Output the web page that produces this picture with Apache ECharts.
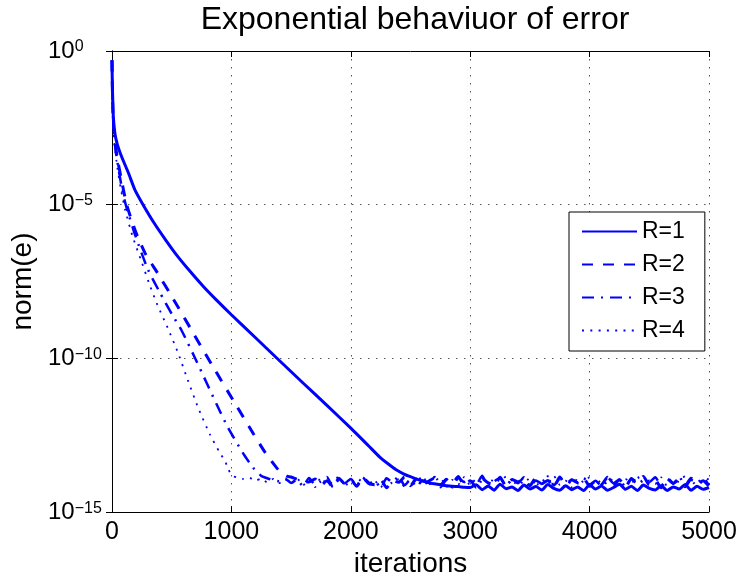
<!DOCTYPE html>
<html>
<head>
<meta charset="utf-8">
<script src="https://cdn.jsdelivr.net/npm/echarts@6/dist/echarts.min.js"></script>
<style>html,body{margin:0;padding:0;background:#fff}#c{width:740px;height:583px}</style>
</head>
<body>
<div id="c"></div>
<script>
// ---- data (values stored as log10 of norm(e)) ----
const seriesNames = ['R=1', 'R=2', 'R=3', 'R=4'];
const xTicks = [0, 1000, 2000, 3000, 4000, 5000];
const yTickExponents = [0, -5, -10, -15];

const R1_head_x = [0,2,5,11,25,45,67,100,137,190,260,350,450,540,650,763,880,1000,1200,1375,1600,1800,2000,2150,2240,2320,2380,2450,2520];
const R1_head_y = [-0.3,-0.9,-1.4,-2.13,-2.7,-3.05,-3.3,-3.62,-3.96,-4.5,-5.0,-5.58,-6.15,-6.63,-7.15,-7.65,-8.12,-8.58,-9.32,-9.97,-10.8,-11.53,-12.27,-12.85,-13.2,-13.45,-13.62,-13.77,-13.88];

const R2_head_x = [0,3,8,20,45,80,123,200,280,373,512,666,835,1044,1184,1281,1379,1430,1463];
const R2_head_y = [-0.3,-1.2,-2.0,-2.8,-3.5,-4.2,-5.0,-5.9,-6.6,-7.17,-8.06,-9.08,-10.2,-11.55,-12.45,-13.05,-13.56,-13.75,-13.83];

const R3_head_x = [0,3,8,20,45,80,115,195,300,400,500,584,709,793,877,974,1100,1180,1225];
const R3_head_y = [-0.3,-1.3,-2.1,-2.9,-3.6,-4.4,-5.0,-6.0,-7.1,-7.85,-8.55,-9.1,-10.1,-10.8,-11.5,-12.27,-13.1,-13.55,-13.72];

const R4_head_x = [0,3,8,20,45,75,109,170,249,310,374,469,555,639,723,821,900,946,975];
const R4_head_y = [-0.3,-1.4,-2.2,-3.0,-3.8,-4.5,-5.15,-6.0,-6.87,-7.55,-8.2,-9.03,-9.84,-10.75,-11.62,-12.48,-13.05,-13.34,-13.6];

const plateauIters = [1000,1050,1100,1150,1200,1250,1300,1350,1400,1450,1500,1550,1600,1650,1700,1750,1800,1850,1900,1950,2000,2050,2100,2150,2200,2250,2300,2350,2400,2450,2500,2550,2600,2650,2700,2750,2800,2850,2900,2950,3000,3050,3100,3150,3200,3250,3300,3350,3400,3450,3500,3550,3600,3650,3700,3750,3800,3850,3900,3950,4000,4050,4100,4150,4200,4250,4300,4350,4400,4450,4500,4550,4600,4650,4700,4750,4800,4850,4900,4950,5000];

const R4_plateau = [-13.80,-13.88,-13.92,-13.88,-13.98,-13.91,-14.03,-13.92,-14.06,-13.93,-14.08,
-13.90,-14.13,-13.95,-14.19,-13.87,-14.10,-14.02,-13.84,-14.16,-13.97,
-14.06,-13.86,-14.14,-13.98,-14.20,-13.89,-14.08,-13.94,-14.18,-13.90,
-14.03,-13.82,-14.11,-14.00,-13.87,-14.19,-13.95,-14.10,-13.86,-14.13,
-13.92,-14.05,-14.18,-13.89,-14.00,-13.84,-14.14,-13.97,-14.08,-13.87,
-14.16,-13.94,-14.06,-13.82,-14.11,-13.98,-14.19,-13.90,-14.03,-13.86,
-14.13,-13.95,-14.10,-13.89,-14.18,-13.92,-14.05,-13.84,-14.14,-13.97,
-14.08,-13.87,-14.16,-13.94,-14.02,-13.82,-14.13,-13.98,-14.06,-13.89];

const R3_plateau = [-13.82,-13.90,-13.96,-14.00,-13.91,-14.05,
-13.94,-14.16,-13.89,-14.10,-14.00,-13.86,-14.19,-13.95,-14.06,-13.92,
-14.14,-13.87,-14.08,-13.98,-14.21,-13.90,-14.03,-13.84,-14.13,-13.94,
-14.18,-13.97,-14.05,-13.86,-14.11,-13.92,-14.19,-13.89,-14.02,-13.95,
-14.10,-13.82,-14.16,-14.00,-13.90,-14.14,-13.94,-14.06,-13.87,-14.18,
-13.97,-14.08,-13.84,-14.13,-13.92,-14.21,-13.95,-14.03,-13.89,-14.11,
-13.98,-14.16,-13.86,-14.06,-13.94,-14.19,-13.90,-14.10,-13.97,-14.02,
-13.87,-14.14,-13.92,-14.08,-13.84,-14.18,-13.95,-14.05,-13.89,-14.13];

const R2_plateau = [-13.86,-13.93,-13.99,-14.02,
-13.92,-14.13,-13.98,-14.19,-13.90,-14.08,-13.95,-14.16,-13.87,-14.05,
-14.11,-13.94,-14.21,-13.97,-14.03,-13.86,-14.14,-13.92,-14.10,-14.00,
-13.89,-14.18,-13.95,-14.06,-13.84,-14.13,-13.98,-14.19,-13.90,-14.05,
-14.10,-13.87,-14.16,-13.94,-14.02,-13.92,-14.14,-13.89,-14.08,-13.97,
-14.19,-13.86,-14.11,-13.95,-14.05,-13.90,-14.16,-13.98,-14.10,-13.87,
-14.13,-13.94,-14.18,-13.92,-14.03,-13.84,-14.11,-13.97,-14.21,-13.89,
-14.06,-13.95,-14.14,-13.90,-14.08,-13.98,-14.16];

const R1_plateau = [-13.93,-13.99,-14.04,-14.08,-14.11,-14.14,-14.16,-14.17,-14.19,-14.20,
-14.11,-14.27,-14.15,-14.29,-14.09,-14.24,-14.18,-14.30,-14.12,-14.25,
-14.17,-14.28,-14.10,-14.23,-14.29,-14.14,-14.27,-14.18,-14.30,-14.11,
-14.25,-14.15,-14.29,-14.20,-14.09,-14.26,-14.16,-14.30,-14.12,-14.23,
-14.28,-14.14,-14.30,-14.18,-14.25,-14.10,-14.29,-14.16,-14.26,-14.20];

// ---- build point lists ----
function build(hx, hy, plateau) {
  const start = plateauIters.length - plateau.length;
  const pts = hx.map((x, i) => [x, Math.pow(10, hy[i])]);
  plateau.forEach((e, i) => pts.push([plateauIters[start + i], Math.pow(10, e)]));
  return pts;
}
const dataR1 = build(R1_head_x, R1_head_y, R1_plateau);
const dataR2 = build(R2_head_x, R2_head_y, R2_plateau);
const dataR3 = build(R3_head_x, R3_head_y, R3_plateau);
const dataR4 = build(R4_head_x, R4_head_y, R4_plateau);

const FONT = "'Liberation Sans', Arial, Helvetica, sans-serif";
const BLUE = '#0000ff';

function supLabel(v) {
  const e = Math.round(Math.log10(v));
  if (yTickExponents.indexOf(e) < 0) return '';
  const s = e < 0 ? '\u2212' + (-e) : String(e);
  return '{b|10}{s|' + s + '}';
}

const chart = echarts.init(document.getElementById('c'), null, {renderer: 'canvas'});
const tickStyle = {show: true, inside: true, length: 6, lineStyle: {color: '#000', width: 1}};
chart.setOption({
  animation: false,
  backgroundColor: '#fff',
  title: {
    text: 'Exponential behaviuor of error',
    left: 410, top: -1, textAlign: 'center',
    textStyle: {fontFamily: FONT, fontSize: 32, fontWeight: 'normal', color: '#000'}
  },
  grid: {left: 112, right: 31, top: 51, bottom: 68, containLabel: false},
  legend: {
    orient: 'vertical', left: 569, top: 212,
    padding: [8, 20, 9, 12], itemGap: 10, itemWidth: 55, itemHeight: 20,
    backgroundColor: '#fff', borderColor: '#000', borderWidth: 1,
    itemStyle: {color: 'rgba(0,0,0,0)', borderColor: 'rgba(0,0,0,0)', borderWidth: 0, opacity: 0},
    textStyle: {fontFamily: FONT, fontSize: 23, color: '#000'},
    data: seriesNames
  },
  xAxis: [{
    type: 'value', min: xTicks[0], max: xTicks[xTicks.length - 1], interval: 1000,
    position: 'bottom',
    name: 'iterations', nameLocation: 'middle', nameGap: 33,
    nameTextStyle: {fontFamily: FONT, fontSize: 28, color: '#000'},
    axisLine: {show: true, onZero: false, lineStyle: {color: '#000', width: 1}},
    axisTick: tickStyle,
    axisLabel: {fontFamily: FONT, fontSize: 25, color: '#000', margin: 8,
                formatter: v => String(v)},
    splitLine: {show: true, lineStyle: {color: '#555', width: 1, type: [1.5, 6.5]}}
  }, {
    type: 'value', min: 0, max: 5000, interval: 1000, position: 'top',
    axisLine: {show: true, onZero: false, lineStyle: {color: '#000', width: 1}},
    axisTick: tickStyle, axisLabel: {show: false}, splitLine: {show: false}
  }],
  yAxis: [{
    type: 'log', logBase: 10, min: 1e-15, max: 1, interval: 5,
    position: 'left',
    name: 'norm(e)', nameLocation: 'middle', nameGap: 66, nameRotate: 90,
    nameTextStyle: {fontFamily: FONT, fontSize: 28, color: '#000'},
    axisLine: {show: true, lineStyle: {color: '#000', width: 1}},
    axisTick: tickStyle,
    axisLabel: {
      align: 'left', margin: 64, formatter: supLabel,
      rich: {
        b: {fontFamily: FONT, fontSize: 24, color: '#000'},
        s: {fontFamily: FONT, fontSize: 16, color: '#000', verticalAlign: 'top'}
      }
    },
    splitLine: {show: true, lineStyle: {color: '#555', width: 1, type: [1.5, 6.5]}}
  }, {
    type: 'log', logBase: 10, min: 1e-15, max: 1, interval: 5, position: 'right',
    axisLine: {show: true, lineStyle: {color: '#000', width: 1}},
    axisTick: tickStyle, axisLabel: {show: false}, splitLine: {show: false}
  }],
  series: [
    {name: seriesNames[0], type: 'line', data: dataR1, symbol: 'none', z: 2, smooth: 0.2,
     lineStyle: {color: BLUE, width: 3, type: 'solid'}, itemStyle: {color: BLUE}},
    {name: seriesNames[1], type: 'line', data: dataR2, symbol: 'none', z: 3, smooth: 0.2,
     lineStyle: {color: BLUE, width: 3, type: [11, 10]}, itemStyle: {color: BLUE}},
    {name: seriesNames[2], type: 'line', data: dataR3, symbol: 'none', z: 4, smooth: 0.2,
     lineStyle: {color: BLUE, width: 2.5, type: [12, 7, 2, 7]}, itemStyle: {color: BLUE}},
    {name: seriesNames[3], type: 'line', data: dataR4, symbol: 'none', z: 5, smooth: 0.2,
     lineStyle: {color: BLUE, width: 1.8, type: [2, 6.3]}, itemStyle: {color: BLUE}}
  ]
});
</script>
</body>
</html>
